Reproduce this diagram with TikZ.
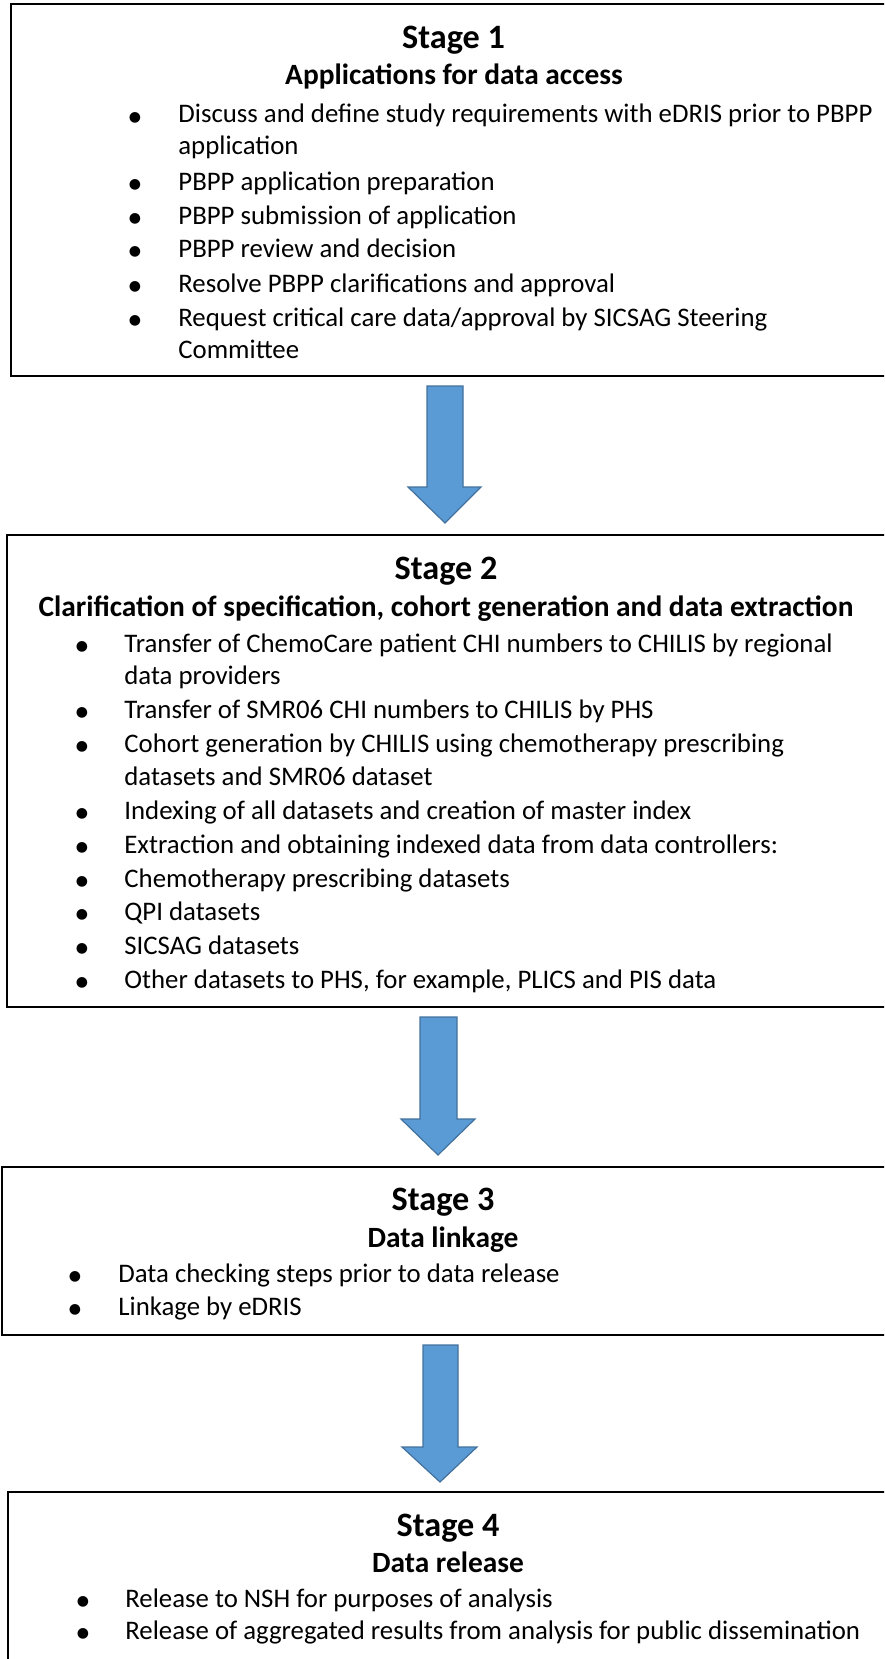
\documentclass[tikz,border=0pt]{standalone}
\usepackage{fontspec}
\setmainfont{Carlito}
\newfontfamily\dejavu{DejaVu Sans}
\usetikzlibrary{fit}
\definecolor{arrowblue}{HTML}{5B9BD5}
\definecolor{arrowedge}{HTML}{41719C}
\begin{document}
\begin{tikzpicture}[x=0.5pt,y=-0.5pt,
  box/.style={draw=black, line width=1.25pt, inner sep=0pt},
  stagetitle/.style={anchor=base, inner sep=0pt, font=\fontsize{17.1}{20}\selectfont\bfseries},
  heading/.style={anchor=base, inner sep=0pt, font=\fontsize{14.7}{17}\selectfont\bfseries},
  itemtext/.style={anchor=base west, inner sep=0pt, font=\fontsize{13.4}{16}\selectfont},
  bulletdot/.style={anchor=center, inner sep=0pt, font=\fontsize{7}{8}\selectfont\dejavu},
  blockarrow/.style={fill=arrowblue, draw=arrowedge, line width=0.6pt, line join=miter}]
\useasboundingbox (0,0) rectangle (884,1659);
\clip (0,0) rectangle (884,1659);

% ---------- boxes ----------
\node[box, fit={(11,4) (900,376)}] (s1) {};
\node[box, fit={(7,535) (900,1007)}] (s2) {};
\node[box, fit={(2,1167) (900,1335)}] (s3) {};
\node[box, fit={(8,1492) (900,1700)}] (s4) {};

% ---------- Stage 1 ----------
\node[stagetitle] (s1t) at (453.5,49) {Stage 1};
\node[heading] (s1h) at (454,85) {Applications for data access};
\node[bulletdot] (s1d1) at (135,117.5) {●};
\node[itemtext] (s1i1) at (178,123) {Discuss and define study requirements with eDRIS prior to PBPP};
\node[itemtext] (s1i1b) at (178,155) {application};
\node[bulletdot] (s1d2) at (135,184.5) {●};
\node[itemtext] (s1i2) at (178,190) {PBPP application preparation};
\node[bulletdot] (s1d3) at (135,218.5) {●};
\node[itemtext] (s1i3) at (178,224) {PBPP submission of application};
\node[bulletdot] (s1d4) at (135,251.5) {●};
\node[itemtext] (s1i4) at (178,257) {PBPP review and decision};
\node[bulletdot] (s1d5) at (135,286.5) {●};
\node[itemtext] (s1i5) at (178,292) {Resolve PBPP clarifications and approval};
\node[bulletdot] (s1d6) at (135,320.5) {●};
\node[itemtext] (s1i6) at (178,326) {Request critical care data/approval by SICSAG Steering};
\node[itemtext] (s1i6b) at (178,358) {Committee};

% ---------- Stage 2 ----------
\node[stagetitle] (s2t) at (446,579) {Stage 2};
\node[heading] (s2h) at (446,616) {Clarification of specification, cohort generation and data extraction};
\node[bulletdot] (s2d1) at (82,646.5) {●};
\node[itemtext] (s2i1) at (124,652) {Transfer of ChemoCare patient CHI numbers to CHILIS by regional};
\node[itemtext] (s2i1b) at (124,684) {data providers};
\node[bulletdot] (s2d2) at (82,712.5) {●};
\node[itemtext] (s2i2) at (124,718) {Transfer of SMR06 CHI numbers to CHILIS by PHS};
\node[bulletdot] (s2d3) at (82,746.5) {●};
\node[itemtext] (s2i3) at (124,752) {Cohort generation by CHILIS using chemotherapy prescribing};
\node[itemtext] (s2i3b) at (124,785) {datasets and SMR06 dataset};
\node[bulletdot] (s2d4) at (82,813.5) {●};
\node[itemtext] (s2i4) at (124,819) {Indexing of all datasets and creation of master index};
\node[bulletdot] (s2d5) at (82,847.5) {●};
\node[itemtext] (s2i5) at (124,853) {Extraction and obtaining indexed data from data controllers:};
\node[bulletdot] (s2d6) at (82,881.5) {●};
\node[itemtext] (s2i6) at (124,887) {Chemotherapy prescribing datasets};
\node[bulletdot] (s2d7) at (82,914.5) {●};
\node[itemtext] (s2i7) at (124,920) {QPI datasets};
\node[bulletdot] (s2d8) at (82,948.5) {●};
\node[itemtext] (s2i8) at (124,954) {SICSAG datasets};
\node[bulletdot] (s2d9) at (82,982.5) {●};
\node[itemtext] (s2i9) at (124,988) {Other datasets to PHS, for example, PLICS and PIS data};

% ---------- Stage 3 ----------
\node[stagetitle] (s3t) at (443,1210) {Stage 3};
\node[heading] (s3h) at (443,1247) {Data linkage};
\node[bulletdot] (s3d1) at (75,1276.5) {●};
\node[itemtext] (s3i1) at (118,1282) {Data checking steps prior to data release};
\node[bulletdot] (s3d2) at (75,1309.5) {●};
\node[itemtext] (s3i2) at (118,1315) {Linkage by eDRIS};

% ---------- Stage 4 ----------
\node[stagetitle] (s4t) at (448,1536) {Stage 4};
\node[heading] (s4h) at (448,1572) {Data release};
\node[bulletdot] (s4d1) at (83,1602) {●};
\node[itemtext] (s4i1) at (125,1607) {Release to NSH for purposes of analysis};
\node[bulletdot] (s4d2) at (83,1634) {●};
\node[itemtext] (s4i2) at (125,1639) {Release of aggregated results from analysis for public dissemination};

% ---------- block arrows ----------
\draw[blockarrow] (427,386) -- (463,386) -- (463,487) -- (481,487) -- (445,523) -- (408,487) -- (427,487) -- cycle;
\draw[blockarrow] (420,1017) -- (457,1017) -- (457,1119) -- (475,1119) -- (438,1155) -- (401,1119) -- (420,1119) -- cycle;
\draw[blockarrow] (423,1345) -- (458,1345) -- (458,1447) -- (477,1447) -- (440,1482) -- (402,1447) -- (423,1447) -- cycle;
\end{tikzpicture}
\end{document}
